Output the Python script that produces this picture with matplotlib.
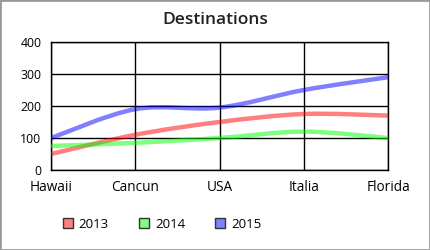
import matplotlib
matplotlib.use('Agg')
import matplotlib.pyplot as plt
from matplotlib.path import Path
from matplotlib.patches import PathPatch, Patch, Rectangle

plt.rcParams['font.family'] = ['Open Sans', 'DejaVu Sans']

places = ['Hawaii', 'Cancun', 'USA', 'Italia', 'Florida']
years = ['2013', '2014', '2015']
v2013 = [50, 110, 150, 175, 170]
v2014 = [75, 85, 100, 120, 100]
v2015 = [100, 190, 195, 250, 290]
colors = ['#ff0000', '#00ff00', '#0000ff']
y_ticks = [0, 100, 200, 300, 400]


def smooth_path(xs, ys, t=0.5):
    # catmull-rom style bezier segments, curves drawn by matplotlib itself
    n = len(xs)
    verts = [(xs[0], ys[0])]
    codes = [Path.MOVETO]
    for i in range(n - 1):
        x0, y0 = xs[max(i - 1, 0)], ys[max(i - 1, 0)]
        x1, y1 = xs[i], ys[i]
        x2, y2 = xs[i + 1], ys[i + 1]
        x3, y3 = xs[min(i + 2, n - 1)], ys[min(i + 2, n - 1)]
        c1 = (x1 + (x2 - x0) * t / 3, y1 + (y2 - y0) * t / 3)
        c2 = (x2 - (x3 - x1) * t / 3, y2 - (y3 - y1) * t / 3)
        verts += [c1, c2, (x2, y2)]
        codes += [Path.CURVE4] * 3
    return Path(verts, codes)


fig = plt.figure(figsize=(4.3, 2.5), dpi=100)
ax = fig.add_axes([51 / 430, 1 - 170 / 250, 337 / 430, 128 / 250])
xs = list(range(len(places)))
for vals, c in zip([v2013, v2014, v2015], colors):
    ax.add_patch(PathPatch(smooth_path(xs, vals), fill=False, edgecolor=c,
                           alpha=0.5, lw=3.2, capstyle='butt', zorder=3))

ax.set_xlim(0, len(places) - 1)
ax.set_ylim(0, 400)
ax.set_xticks(xs)
ax.set_xticklabels(places, fontsize=9.8)
ax.set_yticks(y_ticks)
ax.set_yticklabels([str(v) for v in y_ticks], fontsize=8.8)
ax.tick_params(length=0, pad=7)
ax.tick_params(axis='y', pad=7)
ax.grid(True, color='black', lw=1)
for s in ax.spines.values():
    s.set_color('black')
    s.set_linewidth(1)

fig.text(0.5, 1 - 19.5 / 250, 'Destinations', ha='center', va='center',
         fontsize=12.5, fontweight='semibold', color='#222222')

handles = [Patch(facecolor=(1, .5, .5), edgecolor='#333333'),
           Patch(facecolor=(.5, 1, .5), edgecolor='#333333'),
           Patch(facecolor=(.5, .5, 1), edgecolor='#333333')]
fig.legend(handles, years, loc='center left', bbox_to_anchor=(51 / 430, 1 - 224 / 250),
           ncol=3, frameon=False, fontsize=9.5, handlelength=0.75, handleheight=0.75,
           handletextpad=0.45, columnspacing=2.3)

fig.add_artist(Rectangle((0, 0), 1, 1, transform=fig.transFigure, fill=False,
                         edgecolor='#999999', lw=2))
fig.savefig('out.png', dpi=100)
